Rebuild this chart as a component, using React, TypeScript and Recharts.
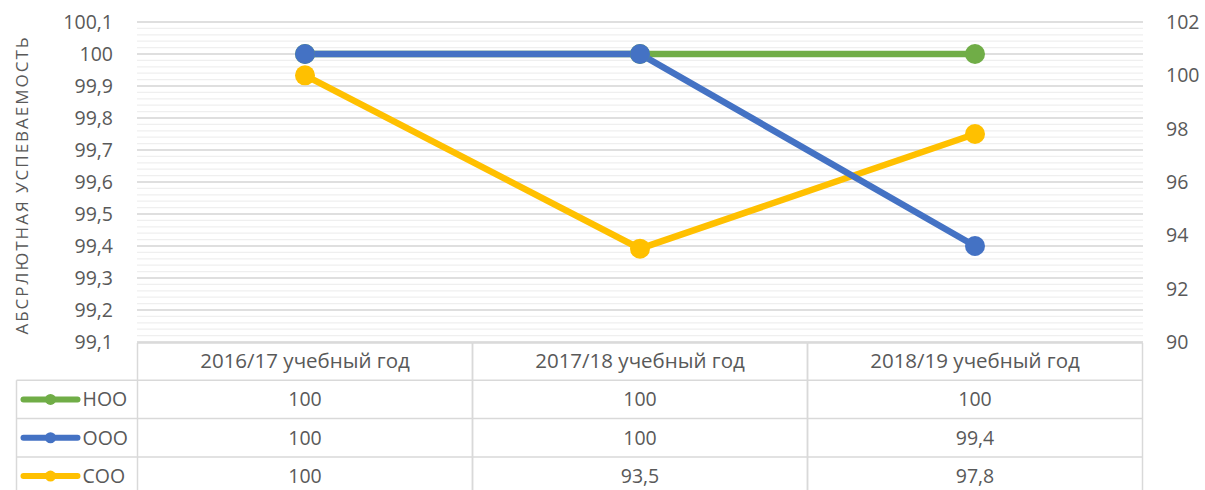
import React from 'react';
import { LineChart, Line, XAxis, YAxis, CartesianGrid } from 'recharts';

const categories = ['2016/17 учебный год', '2017/18 учебный год', '2018/19 учебный год'];
const nooValues = [100, 100, 100];
const oooValues = [100, 100, 99.4];
const sooValues = [100, 93.5, 97.8];
const leftTicks = [99.1, 99.2, 99.3, 99.4, 99.5, 99.6, 99.7, 99.8, 99.9, 100, 100.1];
const rightTicks = [90, 92, 94, 96, 98, 100, 102];
const LEFT_DOMAIN = [99.1, 100.1];

const series = [
  { key: 'noo', name: 'НОО', values: nooValues, color: '#70AD47', axis: 'left' },
  { key: 'ooo', name: 'ООО', values: oooValues, color: '#4472C4', axis: 'left' },
  { key: 'soo', name: 'СОО', values: sooValues, color: '#FFC000', axis: 'right' },
];

const data = categories.map((cat, i) => ({
  cat,
  noo: nooValues[i],
  ooo: oooValues[i],
  soo: sooValues[i],
}));

// minor gridlines every 0.02 on the left axis
const minorTicks = Array.from({ length: 51 }, (_, i) => 99.1 + i * 0.02);

const FONT = '"Open Sans", sans-serif';
const TEXT = '#595959';
const BORDER = '#d9d9d9';
const FS = 19.5;
const HALF = 167.5; // half of a category column
const ROW = 38.3;
const fmt = (v: number) => String(v).replace('.', ',');

const minorLines = ({ yAxis, offset }: any) => {
  const sc = yAxis && yAxis.scale;
  if (typeof sc === 'function') return minorTicks.map((v) => sc(v));
  if (sc && typeof sc.map === 'function') return minorTicks.map((v) => sc.map(v));
  const [lo, hi] = LEFT_DOMAIN;
  return minorTicks.map((v) => offset.top + ((hi - v) / (hi - lo)) * offset.height);
};

const TableTick = (props: any) => {
  const { x, y, payload, index } = props;
  const left = x - HALF;
  const right = x + HALF;
  const rowCenters = [1, 2, 3].map((r) => y + ROW * r + ROW / 2);
  return (
    <g>
      <line x1={left} x2={right} y1={y + 1} y2={y + 1} stroke={BORDER} strokeWidth={1.5} />
      <line x1={left} x2={left} y1={y + 1} y2={y + 160} stroke={BORDER} strokeWidth={1.5} />
      <line x1={right} x2={right} y1={y + 1} y2={y + 160} stroke={BORDER} strokeWidth={1.5} />
      {[1, 2, 3].map((r) => (
        <line key={r} x1={left} x2={right} y1={y + ROW * r} y2={y + ROW * r} stroke={BORDER} strokeWidth={1.5} />
      ))}
      <text x={x} y={y + ROW / 2 + 7} textAnchor="middle" fill={TEXT} fontSize={20.5} fontFamily={FONT}>
        {payload.value}
      </text>
      {series.map((s, si) => (
        <text key={s.key} x={x} y={rowCenters[si] + 7} textAnchor="middle" fill={TEXT} fontSize={FS} fontFamily={FONT}>
          {fmt(s.values[index])}
        </text>
      ))}
      {index === 0 && (
        <g>
          {[1, 2, 3].map((r) => (
            <line key={r} x1={left - 121} x2={left} y1={y + ROW * r} y2={y + ROW * r} stroke={BORDER} strokeWidth={1.5} />
          ))}
          <line x1={left - 121} x2={left - 121} y1={y + ROW} y2={y + 160} stroke={BORDER} strokeWidth={1.5} />
          {series.map((s, si) => (
            <g key={s.key}>
              <line x1={left - 114} x2={left - 60} y1={rowCenters[si]} y2={rowCenters[si]} stroke={s.color} strokeWidth={6} strokeLinecap="round" />
              <circle cx={left - 87} cy={rowCenters[si]} r={5.5} fill={s.color} />
              <text x={left - 55} y={rowCenters[si] + 7} fill={TEXT} fontSize={FS} fontFamily={FONT}>
                {s.name}
              </text>
            </g>
          ))}
        </g>
      )}
    </g>
  );
};

const AxisTitle = (props: any) => {
  const { viewBox } = props;
  const cx = viewBox.x + 21;
  const cy = viewBox.y + viewBox.height / 2 + 3;
  return (
    <text x={cx} y={cy} transform={`rotate(-90 ${cx} ${cy})`} textAnchor="middle" dominantBaseline="central" fill={TEXT} fontSize={17} letterSpacing={2} fontFamily={FONT}>
      АБСРЛЮТНАЯ УСПЕВАЕМОСТЬ
    </text>
  );
};

export default function App() {
  return (
    <div style={{ position: 'absolute', left: 0, top: 0, width: 1205, height: 490, background: '#fff', overflow: 'hidden' }}>
      <LineChart width={1205} height={490} data={data} margin={{ top: 22, right: 0, left: 0, bottom: 0 }}>
        <CartesianGrid
          yAxisId="left"
          vertical={false}
          stroke="#efefef"
          strokeWidth={1.3}
          horizontalCoordinatesGenerator={minorLines}
        />
        <CartesianGrid yAxisId="left" vertical={false} stroke={BORDER} strokeWidth={1.5} />
        <XAxis
          dataKey="cat"
          padding={{ left: 168, right: 168 }}
          height={148}
          axisLine={false}
          tickLine={false}
          tickSize={0}
          tickMargin={0}
          interval={0}
          tick={<TableTick />}
        />
        <YAxis
          yAxisId="left"
          width={137}
          domain={LEFT_DOMAIN}
          ticks={leftTicks}
          allowDataOverflow
          axisLine={false}
          tickLine={false}
          tickMargin={18}
          tickFormatter={fmt}
          tick={{ fill: TEXT, fontSize: FS, fontFamily: FONT }}
          label={<AxisTitle />}
        />
        <YAxis
          yAxisId="right"
          orientation="right"
          width={62}
          domain={[90, 102]}
          ticks={rightTicks}
          axisLine={false}
          tickLine={false}
          tickMargin={17}
          tick={{ fill: TEXT, fontSize: FS, fontFamily: FONT, textAnchor: 'start' }}
        />
        {[series[2], series[0], series[1]].map((s) => (
          <Line
            key={s.key}
            yAxisId={s.axis}
            dataKey={s.key}
            name={s.name}
            stroke={s.color}
            strokeWidth={6.5}
            dot={{ r: 10, fill: s.color, stroke: s.color, strokeWidth: 0 }}
            activeDot={false}
            isAnimationActive={false}
          />
        ))}
      </LineChart>
    </div>
  );
}
